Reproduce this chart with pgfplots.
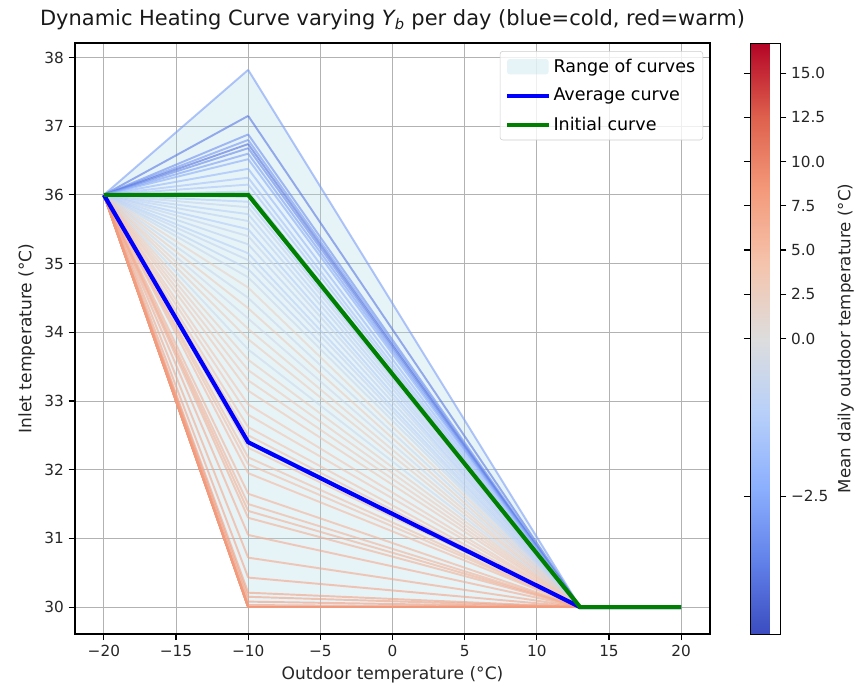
\documentclass[border=0pt]{standalone}
\usepackage{fontspec}
\setmainfont{DejaVu Sans}
\usepackage{pgfplots}
\pgfplotsset{compat=1.18}
\definecolor{lblue}{RGB}{173,216,230}
\definecolor{mplgreen}{RGB}{0,128,0}
\pgfplotsset{
  colormap={coolwarm}{rgb255=(59,76,192) rgb255=(98,130,234) rgb255=(141,176,254) rgb255=(184,208,249) rgb255=(221,221,221) rgb255=(245,196,173) rgb255=(244,154,123) rgb255=(222,96,77) rgb255=(180,4,38)}
}
% one daily curve: #1 = Y_b at -10 C, #2 = normalised colour value
\newcommand{\cv}[2]{\addplot[mesh, point meta=explicit, forget plot, line width=1.4pt, draw opacity=0.6] coordinates {(-20,36) [#2] (-10,#1) [#2] (13,30) [#2]};}
\begin{document}
\begin{tikzpicture}
\begin{axis}[
  name=ax, scale only axis, width=457.2pt, height=425.5pt,
  xmin=-22, xmax=22, ymin=29.609, ymax=38.211,
  xtick={-20,-15,...,20}, xticklabels={−20,−15,−10,−5,0,5,10,15,20},
  ytick={30,31,...,38}, yticklabels={30,31,32,33,34,35,36,37,38},
  grid=major, grid style={color=black!30, line width=0.6pt},
  tick align=outside, xtick pos=bottom, ytick pos=left,
  major tick length=4.5pt, tick style={black, line width=0.8pt},
  axis line style={line width=0.8pt},
  tick label style={font=\fontsize{11}{13}\selectfont, text=black!85},
  label style={font=\fontsize{12.3}{14}\selectfont, text=black!85},
  xlabel={Outdoor temperature (°C)}, ylabel={Inlet temperature (°C)},
  title={Dynamic Heating Curve varying {\itshape Y}\textsubscript{\itshape b} per day (blue=cold, red=warm)},
  title style={font=\fontsize{15.1}{17}\selectfont, text=black!90},
  colormap name=coolwarm, point meta min=0, point meta max=1,
  colorbar shift/.style={xshift=28.8pt},
  colorbar,
  colorbar style={
    at={(parent axis.north east)}, anchor=north west,
    width=21.6pt,
    ytick={0.2329,0.5,0.5749,0.6497,0.7246,0.7994,0.8743,0.9491},
    yticklabels={−2.5,0.0,2.5,5.0,7.5,10.0,12.5,15.0},
    yticklabel pos=right, ylabel near ticks,
    ylabel={Mean daily outdoor temperature (°C)},
    tick align=outside, major tick length=4.5pt,
    tick style={black, line width=0.8pt},
    axis line style={line width=0.6pt},
    tick label style={font=\fontsize{11}{13}\selectfont, text=black!85},
    ylabel style={font=\fontsize{12}{14}\selectfont, text=black!85},
  },
  legend cell align=left,
  legend image code/.code={\draw[#1] (0pt,0pt) -- (30pt,0pt);},
  legend style={at={(1,1)}, anchor=north east, xshift=-5pt, yshift=-5.8pt,
    draw=black!20, rounded corners=2pt, fill=white, fill opacity=0.8,
    text opacity=1, draw opacity=1, font=\fontsize{12.6}{15}\selectfont,
    inner sep=3.5pt, row sep=6pt},
]
\addplot[fill=lblue, fill opacity=0.3, draw=none,
  legend image code/.code={\fill[lblue, fill opacity=0.3] (0pt,-5.5pt) rectangle (30pt,5.5pt);}]
  coordinates {(-20,36) (-10,37.82) (13,30) (20,30) (13,30) (-10,30) (-20,36)};
\addlegendentry{Range of curves}
% daily curves
\cv{30.00}{0.75}
\cv{35.97}{0.40}
\cv{33.15}{0.61}
\cv{37.82}{0.20}
\cv{31.65}{0.68}
\cv{30.00}{0.77}
\cv{34.65}{0.56}
\cv{35.90}{0.36}
\cv{32.95}{0.62}
\cv{37.15}{0.10}
\cv{31.50}{0.68}
\cv{30.00}{0.73}
\cv{34.50}{0.44}
\cv{35.82}{0.42}
\cv{32.80}{0.62}
\cv{36.88}{0.16}
\cv{31.40}{0.69}
\cv{30.00}{0.76}
\cv{34.35}{0.58}
\cv{35.72}{0.38}
\cv{32.62}{0.63}
\cv{36.80}{0.18}
\cv{31.30}{0.69}
\cv{30.00}{0.74}
\cv{34.20}{0.46}
\cv{35.62}{0.40}
\cv{32.50}{0.64}
\cv{36.74}{0.08}
\cv{31.05}{0.70}
\cv{30.00}{0.78}
\cv{34.05}{0.57}
\cv{35.50}{0.36}
\cv{32.32}{0.64}
\cv{36.68}{0.14}
\cv{30.72}{0.71}
\cv{30.00}{0.75}
\cv{33.90}{0.58}
\cv{35.40}{0.42}
\cv{32.18}{0.65}
\cv{36.60}{0.20}
\cv{30.43}{0.72}
\cv{30.00}{0.77}
\cv{33.75}{0.45}
\cv{35.28}{0.40}
\cv{32.08}{0.65}
\cv{36.52}{0.24}
\cv{30.21}{0.73}
\cv{30.00}{0.74}
\cv{33.60}{0.58}
\cv{35.15}{0.38}
\cv{31.95}{0.66}
\cv{36.38}{0.28}
\cv{30.15}{0.73}
\cv{33.45}{0.59}
\cv{35.05}{0.42}
\cv{36.25}{0.32}
\cv{30.08}{0.74}
\cv{33.30}{0.60}
\cv{34.92}{0.40}
\cv{36.15}{0.34}
\cv{30.03}{0.74}
\cv{34.80}{0.44}
\cv{36.05}{0.37}
\addplot[blue, line width=3pt] coordinates {(-20,36) (-10,32.4) (13,30) (20,30)};
\addlegendentry{Average curve}
\addplot[mplgreen, line width=3pt] coordinates {(-20,36) (-10,36) (13,30) (20,30)};
\addlegendentry{Initial curve}
\end{axis}
\pgfresetboundingbox
\path[use as bounding box] ([xshift=-54pt, yshift=-39.6pt]ax.south west) rectangle ([xshift=105.84pt, yshift=30.96pt]ax.north east);
\end{tikzpicture}
\end{document}
